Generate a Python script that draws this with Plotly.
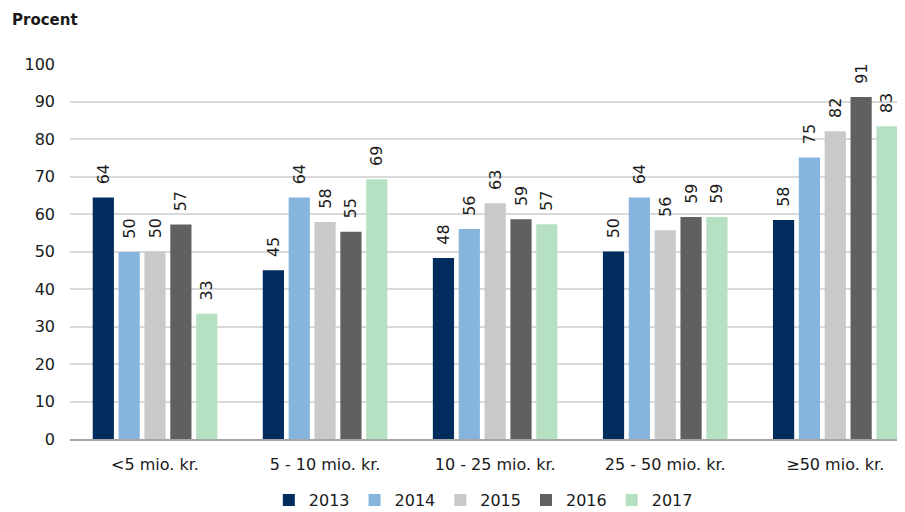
import plotly.graph_objects as go

categories = ["<5 mio. kr.", "5 - 10 mio. kr.", "10 - 25 mio. kr.", "25 - 50 mio. kr.", "≥50 mio. kr."]
years = ["2013", "2014", "2015", "2016", "2017"]

v2013 = [64.4, 45.0, 48.3, 50.0, 58.4]
v2014 = [49.9, 64.4, 56.0, 64.4, 75.1]
v2015 = [50.0, 57.9, 62.9, 55.7, 82.1]
v2016 = [57.2, 55.3, 58.6, 59.2, 91.2]
v2017 = [33.4, 69.3, 57.3, 59.2, 83.4]

colors = ["#002D5D", "#85B4DD", "#C9C9C9", "#606060", "#B5E0C2"]
FONT = "DejaVu Sans"

# page has an 8px body margin, so the figure is 8px smaller on each axis
W, H = 897, 504
L, T, B = 62, 56, 73

fig = go.Figure()
for year, vals, col in zip(years, [v2013, v2014, v2015, v2016, v2017], colors):
    fig.add_trace(go.Bar(
        x=categories, y=vals, name=year,
        marker=dict(color=col, line=dict(width=0)),
        # leading nbsp's push the rotated label a bit off the bar top
        texttemplate="\u00a0\u00a0%{y:.0f}", textposition="outside", textangle=-90,
        textfont=dict(size=16, color="#1a1a1a", family=FONT),
        constraintext="none", cliponaxis=False,
    ))

fig.update_layout(
    width=W, height=H,
    margin=dict(l=L, r=0, t=T, b=B, autoexpand=False),
    paper_bgcolor="white", plot_bgcolor="white",
    font=dict(family=FONT, color="#1a1a1a"),
    barmode="group", bargap=0.24, bargroupgap=0.18,
    showlegend=True,
    legend=dict(orientation="h", x=0.495, xanchor="center", y=-0.163, yanchor="middle",
                font=dict(size=16), traceorder="normal", itemwidth=30),
    xaxis=dict(range=[-0.5, 4.41], showgrid=False, showline=True, linecolor="#A6A6A6", linewidth=2,
               ticks="", tickfont=dict(size=16), ticklabelstandoff=10),
    yaxis=dict(range=[0, 100], dtick=10, showgrid=True, gridcolor="#D9D9D9", gridwidth=2,
               zeroline=False, showline=False, ticks="", tickfont=dict(size=16), ticklabelstandoff=14),
)

fig.add_annotation(text="<b>Procent</b>", xref="paper", yref="paper",
                   x=(2 - L) / 835, y=(431 - 12) / 375, xanchor="left", yanchor="middle",
                   showarrow=False, font=dict(size=15, family=FONT, color="#1a1a1a"))

fig.write_html("out.html")
